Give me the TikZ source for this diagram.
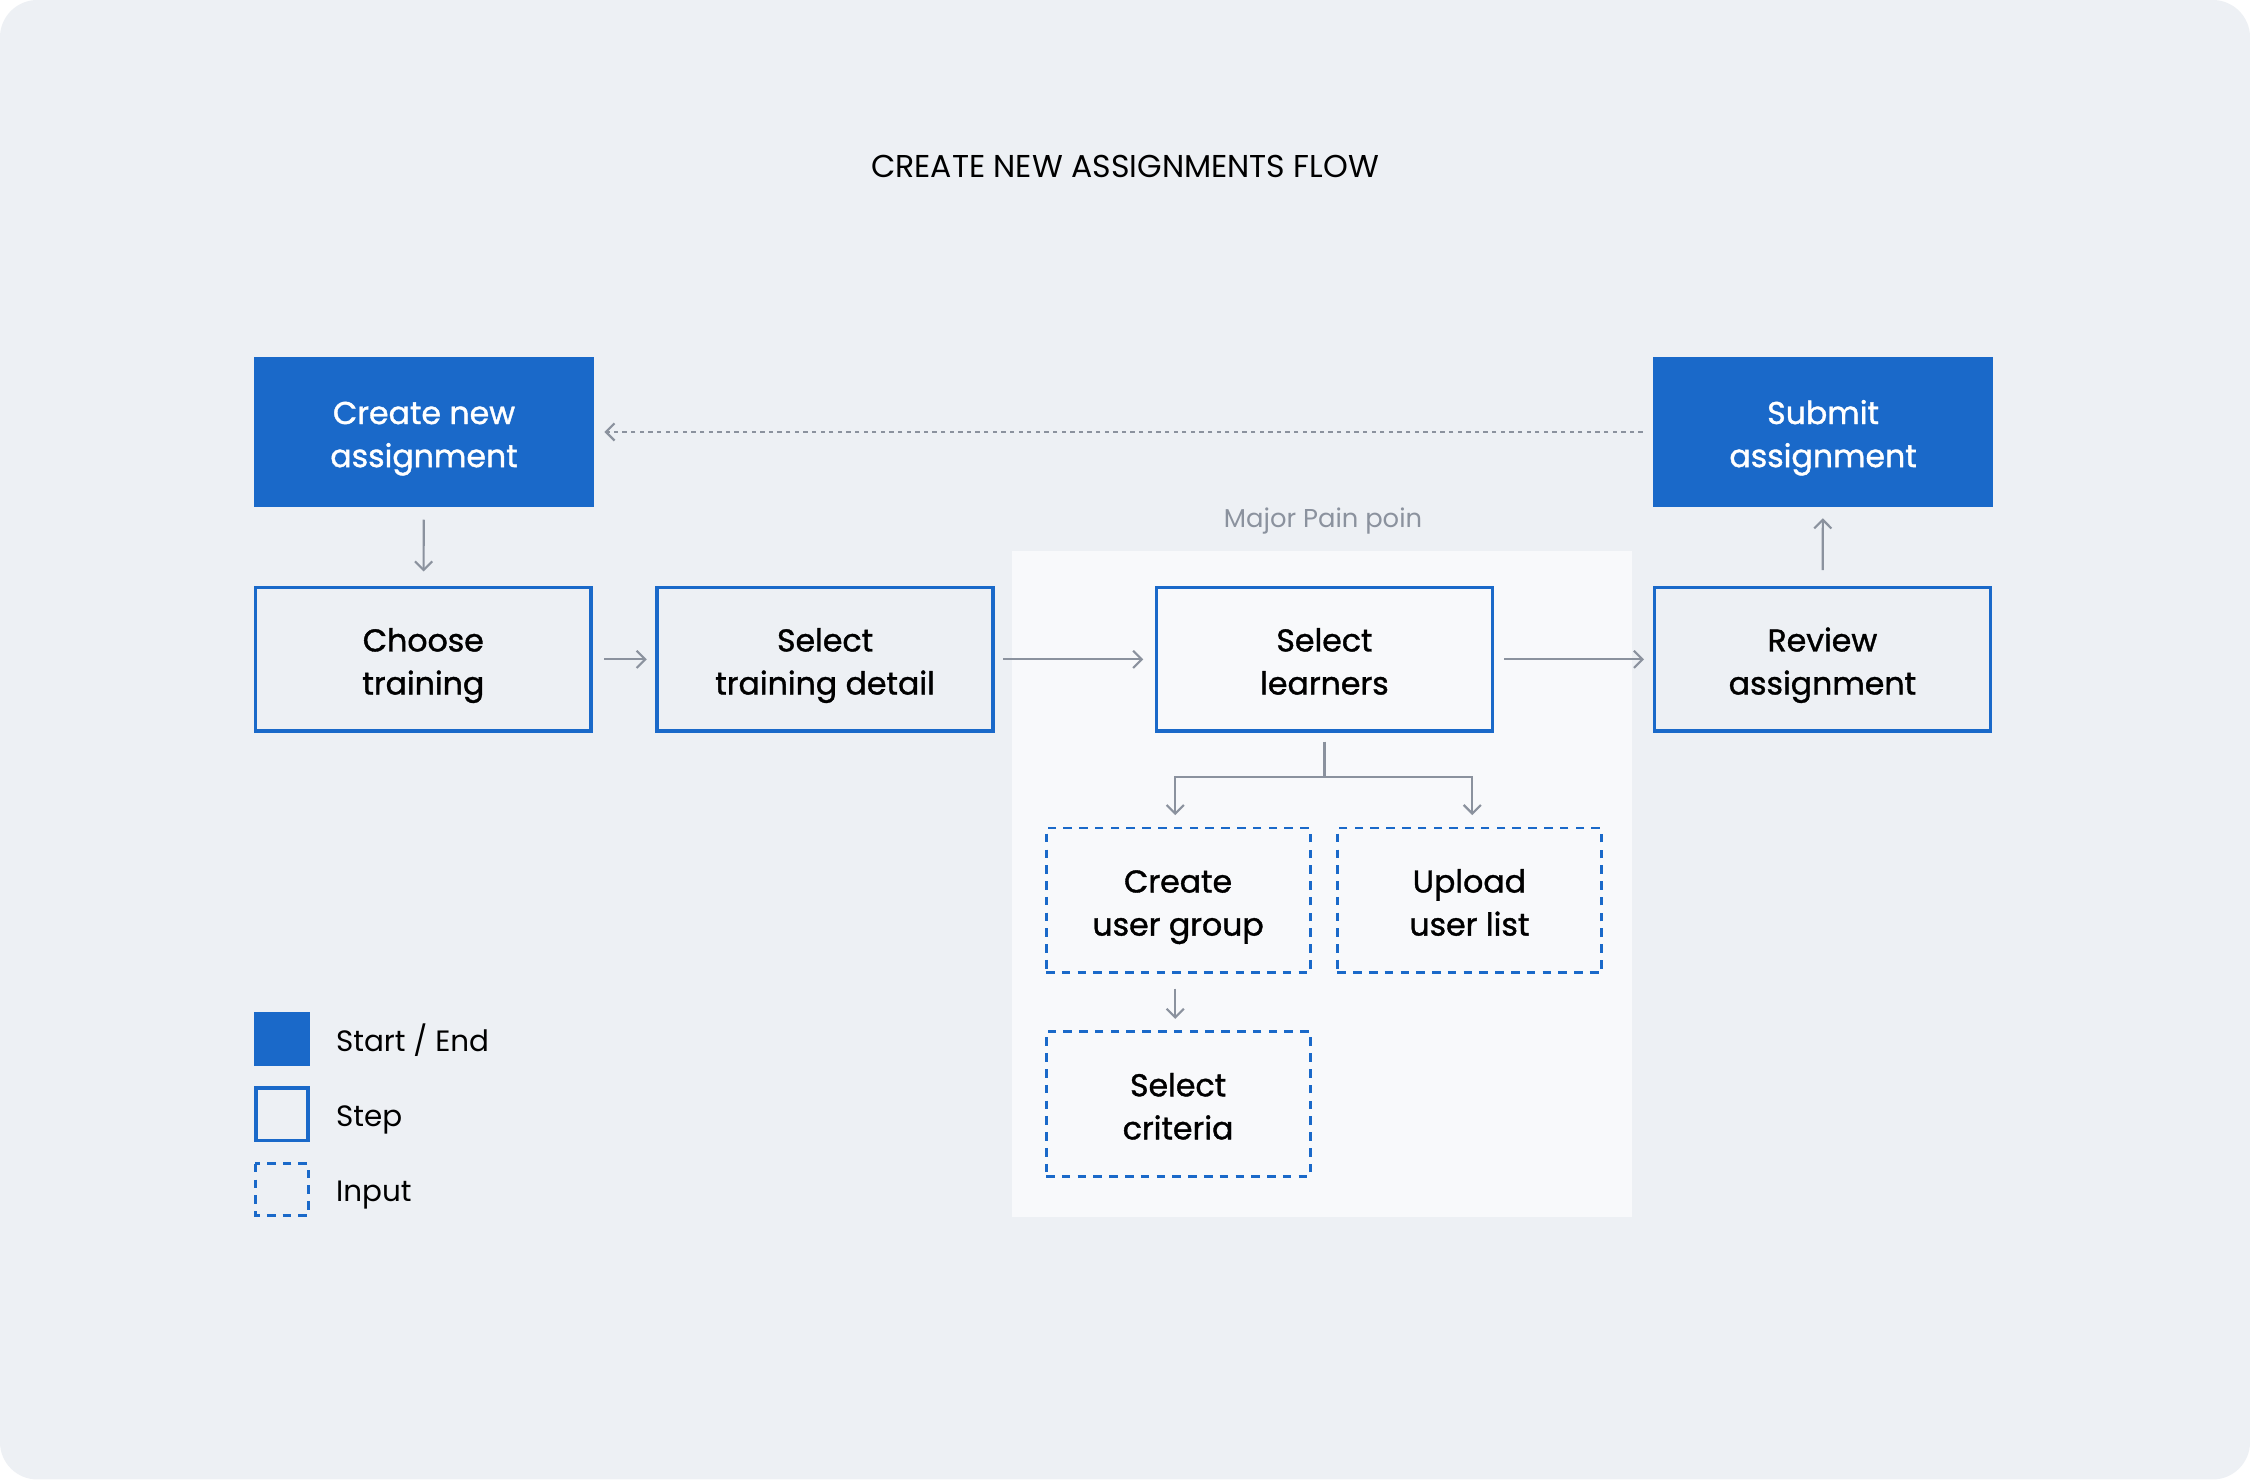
\documentclass[tikz,border=0pt]{standalone}
\usepackage{fontspec}
\setmainfont{Poppins}
\newfontfamily\boxfont{Poppins}[FakeBold=1.2]
\usetikzlibrary{arrows.meta}
\definecolor{flowblue}{HTML}{1A69C9}
\definecolor{canvas}{HTML}{EDF0F4}
\definecolor{panelgray}{HTML}{F8F9FB}
\definecolor{linegray}{HTML}{8B929E}
\tikzset{
	boxtext/.style={align=center,text height=52pt,text depth=3pt,font=\boxfont\fontsize{22}{30}\selectfont},
	endbox/.style={boxtext,fill=flowblue,text=white,minimum width=237pt,minimum height=104pt},
	stepbox/.style={boxtext,draw=flowblue,line width=2.5pt,minimum width=234pt,minimum height=100pt},
	inputbox/.style={boxtext,draw=flowblue,line width=2pt,dash pattern=on 6pt off 5pt,minimum width=184pt,minimum height=101pt},
	flow/.style={draw=linegray,line width=1.5pt,-{Straight Barb[length=6pt,width=12pt,line width=1.5pt]}},
	legendtext/.style={anchor=base west,inner sep=0pt,font=\fontsize{20.5}{24}\selectfont}
}
\begin{document}
\begin{tikzpicture}[x=1pt,y=-1pt]
	\useasboundingbox (0,0) rectangle (1568,1031);
	\fill[white] (0,0) rectangle (1568,1031);
	\fill[canvas,rounded corners=26pt] (0,0) rectangle (1568,1031);
	\fill[panelgray] (705,384) rectangle (1137,848);
	\node (title) at (784,116) {\fontsize{22}{26}\selectfont CREATE NEW ASSIGNMENTS FLOW};
	\node[text=linegray,font=\fontsize{18}{22}\selectfont] (pain) at (922,363) {Major Pain poin};
	\node[endbox] (start) at (295.5,301) {Create new\\assignment};
	\node[endbox] (submit) at (1270.5,301) {Submit\\assignment};
	\node[stepbox] (choose) at (295,459.5) {Choose\\training};
	\node[stepbox] (detail) at (575,459.5) {Select\\training detail};
	\node[stepbox] (learners) at (923,459.5) {Select\\learners};
	\node[stepbox] (review) at (1270,459.5) {Review\\assignment};
	\node[inputbox] (group) at (821,627.5) {Create\\user group};
	\node[inputbox] (upload) at (1024,627.5) {Upload\\user list};
	\node[inputbox] (criteria) at (821,769.5) {Select\\criteria};
	\draw[flow,shorten <=9pt,shorten >=10pt] (start) -- (choose);
	\draw[flow,shorten <=8pt,shorten >=6pt] (choose) -- (detail);
	\draw[flow,shorten <=6pt,shorten >=8pt] (detail) -- (learners);
	\draw[flow,shorten <=7pt,shorten >=6pt] (learners) -- (review);
	\draw[flow,shorten <=11pt,shorten >=8pt] (review) -- (submit);
	\draw[flow,dash pattern=on 3pt off 3pt,shorten <=7pt,shorten >=7pt] (submit) -- (start);
	\draw[flow] ([yshift=-6pt]learners.south) -- ++(0,25) -| ([xshift=-2pt,yshift=8pt]group.north);
	\draw[flow] ([yshift=-6pt]learners.south) ++(0,25) -| ([xshift=2pt,yshift=8pt]upload.north);
	\draw[flow,shorten <=10pt,shorten >=8pt] ([xshift=-2pt]group.south) -- ([xshift=-2pt]criteria.north);
	\fill[flowblue] (177,705) rectangle (216,743);
	\draw[flowblue,line width=2.5pt] (178.25,758.25) rectangle (214.75,794.75);
	\draw[flowblue,line width=2pt,dash pattern=on 6pt off 5pt] (178,811) rectangle (215,847);
	\node[legendtext] (lend) at (234,733) {Start / End};
	\node[legendtext] (lstep) at (234,785) {Step};
	\node[legendtext] (linput) at (234,837) {Input};
\end{tikzpicture}
\end{document}
